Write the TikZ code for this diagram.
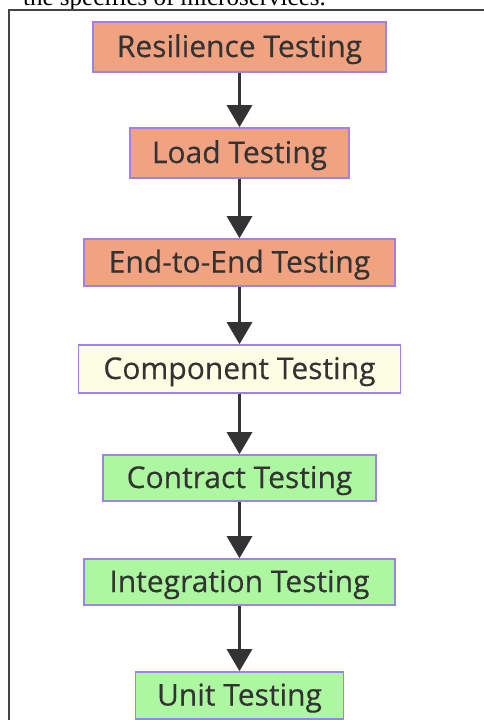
\documentclass[tikz,border=0pt]{standalone}
\usepackage{fontspec}
\setmainfont{Open Sans}
\newfontfamily\boxfont{Open Sans}[FakeBold=0.35]
\newfontfamily\serifcap{Liberation Serif}
\usetikzlibrary{arrows.meta}
\definecolor{salmonfill}{HTML}{F1A381}
\definecolor{greenfill}{HTML}{ACF7A0}
\definecolor{creamfill}{HTML}{FDFDE4}
\definecolor{boxborder}{HTML}{9F82E6}
\definecolor{inkgrey}{HTML}{333333}
\definecolor{framegrey}{HTML}{444444}
\tikzset{
  testbox/.style={draw=boxborder, line width=1.6pt, text=inkgrey, inner sep=0pt,
    font=\boxfont\fontsize{30}{32}\selectfont, text height=24pt, text depth=4pt},
  salmonbox/.style={testbox, fill=salmonfill},
  greenbox/.style={testbox, fill=greenfill},
  creambox/.style={testbox, fill=creamfill},
  flowarrow/.style={draw=inkgrey, line width=3pt,
    -{Triangle[width=25pt,length=22pt]}}
}
\begin{document}
\begin{tikzpicture}[x=1pt,y=-1pt]
\useasboundingbox (0,0) rectangle (484,720);
\begin{scope}
\clip (0,0) rectangle (484,720);
\node[anchor=base east, font=\serifcap\fontsize{25}{28}\selectfont, text=black, inner sep=0pt] (caption) at (326,5.5) {the specifics of microservices.};
\draw[framegrey, line width=2pt] (9,10) rectangle (500,740);
\node[salmonbox, minimum width=293pt, minimum height=50pt] (res) at (239.5,47) {Resilience Testing};
\node[salmonbox, minimum width=219pt, minimum height=50pt] (load) at (239.5,153) {Load Testing};
\node[salmonbox, minimum width=311pt, minimum height=47pt] (e2e) at (239.5,262.5) {End-to-End Testing};
\node[creambox, minimum width=322pt, minimum height=48pt] (comp) at (239.5,369) {Component Testing};
\node[greenbox, minimum width=273pt, minimum height=46pt] (contract) at (239.5,478) {Contract Testing};
\node[greenbox, minimum width=311pt, minimum height=46pt] (integ) at (239.5,582) {Integration Testing};
\node[greenbox, minimum width=208pt, minimum height=47pt] (unit) at (239.5,695.5) {Unit Testing};
\draw[flowarrow] (res) -- (load);
\draw[flowarrow] (load) -- (e2e);
\draw[flowarrow] (e2e) -- (comp);
\draw[flowarrow] (comp) -- (contract);
\draw[flowarrow] (contract) -- (integ);
\draw[flowarrow] (integ) -- (unit);
\end{scope}
\end{tikzpicture}
\end{document}
